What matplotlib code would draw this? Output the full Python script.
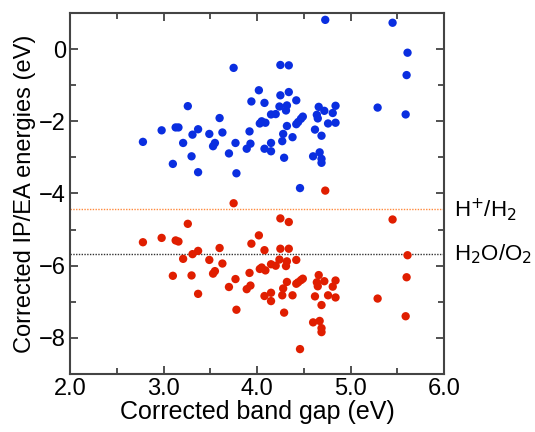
import matplotlib
matplotlib.use("Agg")
import matplotlib.pyplot as plt
from matplotlib.ticker import MultipleLocator, FixedLocator
import matplotlib.transforms as mtransforms

plt.rcParams['font.family'] = ['Liberation Sans', 'DejaVu Sans']

# Corrected band gap (eV)
gap = [3.75, 4.25, 4.34, 4.02, 3.26, 3.94, 4.08, 4.25, 4.34, 4.42,
       4.24, 4.32, 4.31, 3.60, 4.15, 4.20, 2.98, 3.13, 3.16, 3.37,
       3.31, 3.49, 3.63, 3.92, 4.03, 4.09, 4.05, 2.78, 3.21, 3.53,
       3.55, 3.77, 3.93, 3.89, 4.08, 4.15, 4.15, 4.27, 3.70, 3.30,
       3.10, 3.37, 3.78, 4.73, 5.45, 5.61, 5.60, 5.29, 5.59, 4.66,
       4.72, 4.84, 4.81, 4.64, 4.65, 4.49, 4.47, 4.44, 4.42, 4.32,
       4.76, 4.84, 4.62, 4.28, 4.38, 4.69, 4.29, 4.60, 4.67, 4.69,
       4.69, 4.46]

# Corrected EA energies (eV) - blue
ea = [-0.52, -0.44, -0.45, -1.14, -1.58, -1.45, -1.49, -1.28, -1.19, -1.42,
      -1.59, -1.56, -1.70, -1.91, -1.81, -1.80, -2.25, -2.17, -2.17, -2.22,
      -2.37, -2.35, -2.31, -2.28, -2.06, -2.04, -2.00, -2.57, -2.60, -2.69,
      -2.60, -2.60, -2.62, -2.76, -2.76, -2.60, -2.83, -2.55, -2.89, -2.97,
      -3.18, -3.41, -3.44, 0.81, 0.73, -0.10, -0.72, -1.62, -1.81, -1.60,
      -1.71, -1.57, -1.77, -1.82, -1.92, -1.87, -1.93, -2.02, -2.08, -2.13,
      -2.06, -2.04, -2.23, -2.35, -2.44, -2.40, -3.01, -2.97, -2.86, -3.04,
      -3.15, -3.85]

# Corrected IP energies (eV) - red
ip = [-4.27, -4.69, -4.79, -5.16, -4.84, -5.39, -5.57, -5.53, -5.53, -5.84,
      -5.83, -5.88, -6.01, -5.51, -5.96, -6.00, -5.23, -5.30, -5.33, -5.59,
      -5.68, -5.84, -5.94, -6.20, -6.09, -6.13, -6.05, -5.35, -5.81, -6.22,
      -6.15, -6.37, -6.55, -6.65, -6.84, -6.75, -6.98, -6.82, -6.59, -6.27,
      -6.28, -6.78, -7.22, -3.92, -4.72, -5.71, -6.32, -6.91, -7.40, -6.26,
      -6.43, -6.41, -6.58, -6.46, -6.57, -6.36, -6.40, -6.46, -6.50, -6.45,
      -6.82, -6.88, -6.85, -6.63, -6.82, -7.09, -7.30, -7.57, -7.53, -7.73,
      -7.84, -8.31]

h_level = -4.44
o_level = -5.67
h_label = "H$^{+}$/H$_{2}$"
o_label = "H$_{2}$O/O$_{2}$"

fig = plt.figure(figsize=(5.35, 4.32), dpi=100)
ax = fig.add_axes([70/535, 1 - 374/432, 374/535, 361/432])

ax.axhline(h_level, color='#ff8a3d', linestyle=(0, (1, 1)), linewidth=1.0, zorder=1)
ax.axhline(o_level, color='#333333', linestyle=(0, (1, 1)), linewidth=1.0, zorder=1)

ax.scatter(gap, ea, s=36, color='#0a2ee0', edgecolors='none', zorder=3)
ax.scatter(gap, ip, s=36, color='#e01e00', edgecolors='none', zorder=3)

ax.set_xlim(2.0, 6.0)
ax.set_ylim(-9, 1)
ax.xaxis.set_major_locator(FixedLocator([2, 3, 4, 5, 6]))
ax.xaxis.set_minor_locator(MultipleLocator(0.5))
ax.yaxis.set_major_locator(FixedLocator([-8, -6, -4, -2, 0]))
ax.yaxis.set_minor_locator(MultipleLocator(1))
ax.set_xticklabels(["2.0", "3.0", "4.0", "5.0", "6.0"])
ax.set_yticklabels(["\u22128", "\u22126", "\u22124", "\u22122", "0"])

ax.tick_params(which='both', direction='in', top=True, right=True,
               color='#333333', width=1.2)
ax.tick_params(which='major', length=6, labelsize=17)
ax.tick_params(axis='x', which='major', pad=3)
ax.tick_params(axis='y', which='major', pad=3)
ax.tick_params(which='minor', length=4)
for sp in ax.spines.values():
    sp.set_color('#444444')
    sp.set_linewidth(1.5)

ax.set_xlabel("Corrected band gap (eV)", fontsize=18, labelpad=0)
ax.set_ylabel("Corrected IP/EA energies (eV)", fontsize=17, labelpad=2)

trans = mtransforms.blended_transform_factory(ax.transAxes, ax.transData)
ax.text(1.028, h_level, h_label, transform=trans, fontsize=16, va='center', ha='left')
ax.text(1.028, o_level, o_label, transform=trans, fontsize=16, va='center', ha='left')

fig.savefig("out.png", dpi=100)
